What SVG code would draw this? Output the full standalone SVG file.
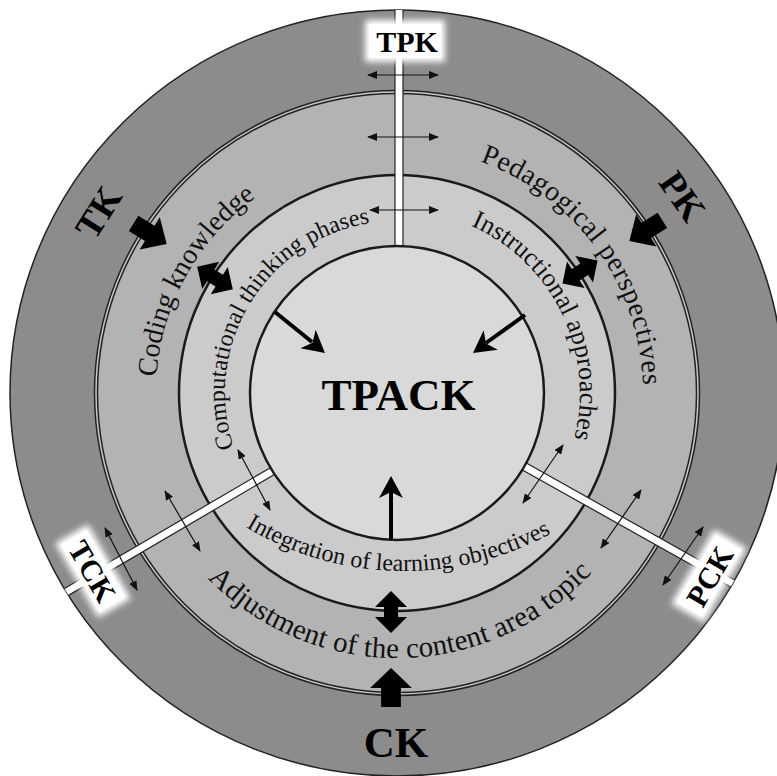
<svg xmlns="http://www.w3.org/2000/svg" width="777" height="776" viewBox="0 0 777 776">
<style>
.ln{fill:none;stroke:#1a1a1a}
.serif{font-family:"Liberation Serif","Times New Roman",serif;fill:#111}
.bold{font-family:"Liberation Serif","Times New Roman",serif;font-weight:bold;fill:#000}
.blk{fill:#000}
.thin{stroke:#111;stroke-width:1.2;fill:none;marker-start:url(#mh);marker-end:url(#mh)}
.shaft{stroke:#000;stroke-width:4;fill:none}
.edge{stroke:#222;stroke-width:1.2}
</style>
<defs>
<marker id="mh" viewBox="0 0 10 8" refX="9" refY="4" markerWidth="10" markerHeight="8" markerUnits="userSpaceOnUse" orient="auto-start-reverse"><path d="M0,0 L10,4 L0,8 Z" fill="#111"/></marker>
<path id="blockArrow" d="M0,-9 L19,-9 L19,-19 L39,0 L19,19 L19,9 L0,9 Z"/>
<path id="dblArrow" d="M-21,0 L-5,-16 L-5,-7 L5,-7 L5,-16 L21,0 L5,16 L5,7 L-5,7 L-5,16 Z"/>
<path id="head" d="M0,0 L-22,-12 L-16,0 L-22,12 Z"/>
<clipPath id="outerClip"><ellipse cx="397" cy="393" rx="387" ry="383"/></clipPath>
<filter id="glow" x="-30%" y="-30%" width="160%" height="160%"><feGaussianBlur stdDeviation="3"/></filter>
<path id="pCoding" d="M 245.3 580.3 A 241 241 0 0 1 475.5 165.1"/>
<path id="pPed" d="M 289.2 171.9 A 246 246 0 0 1 574.0 563.9"/>
<path id="pAdj" d="M 136.8 443.1 A 265 265 0 0 0 658.7 434.9"/>
<path id="pComp" d="M 283.7 522.4 A 172 172 0 0 1 459.2 232.6"/>
<path id="pInst" d="M 347.0 217.0 A 183 183 0 0 1 504.2 541.3"/>
<path id="pInt" d="M 164.8 456.4 A 307 307 0 0 0 635.0 466.2"/>
</defs>
<rect width="777" height="776" fill="#fff"/>

<g id="rings">
<ellipse cx="397" cy="393" rx="387" ry="383" fill="#8c8c8c" stroke="#222" stroke-width="1.5"/>
<circle cx="397" cy="393" r="301" fill="#b3b3b3" stroke="#222" stroke-width="4.5"/>
<circle cx="397" cy="393" r="301" fill="none" stroke="#c8c8c8" stroke-width="1.5"/>
<circle cx="397" cy="393" r="218" fill="#cbcbcb" stroke="#1a1a1a" stroke-width="2.5"/>
</g>

<g id="bands" clip-path="url(#outerClip)">
<g id="band-tpk">
<rect x="395" y="0" width="8" height="247" fill="#fff"/>
<line class="edge" x1="395" y1="0" x2="395" y2="247"/>
<line class="edge" x1="403" y1="0" x2="403" y2="247"/>
</g>
<g id="band-tck" transform="translate(397,398) rotate(149.6)">
<rect x="143" y="-4" width="260" height="8" fill="#fff"/>
<line class="edge" x1="143" y1="-4" x2="403" y2="-4"/>
<line class="edge" x1="143" y1="4" x2="403" y2="4"/>
</g>
<g id="band-pck" transform="translate(397,395) rotate(29.3)">
<rect x="144" y="-4" width="260" height="8" fill="#fff"/>
<line class="edge" x1="144" y1="-4" x2="404" y2="-4"/>
<line class="edge" x1="144" y1="4" x2="404" y2="4"/>
</g>
</g>

<g id="core">
<circle cx="397" cy="393" r="147" fill="#d9d9d9" stroke="#1a1a1a" stroke-width="2.5"/>
</g>

<g id="connectors">
<line class="thin" x1="368" y1="75" x2="438" y2="75"/>
<line class="thin" x1="368" y1="137" x2="438" y2="137"/>
<line class="thin" x1="370" y1="210" x2="438" y2="210"/>
<line class="thin" x1="238" y1="450" x2="270" y2="510"/>
<line class="thin" x1="165" y1="491" x2="200" y2="551"/>
<line class="thin" x1="105" y1="528" x2="137" y2="590"/>
<line class="thin" x1="563" y1="445" x2="523" y2="503"/>
<line class="thin" x1="641" y1="490" x2="601" y2="548"/>
<line class="thin" x1="703" y1="527" x2="663" y2="585"/>
<use href="#blockArrow" class="blk" transform="translate(133.6,223.4) rotate(32)"/>
<use href="#blockArrow" class="blk" transform="translate(662.4,220.4) rotate(148)"/>
<use href="#blockArrow" class="blk" transform="translate(391,707) rotate(-90) scale(1,1.1)"/>
<use href="#dblArrow" class="blk" transform="translate(215,278) rotate(32)"/>
<use href="#dblArrow" class="blk" transform="translate(580,272) rotate(146.5)"/>
<use href="#dblArrow" class="blk" transform="translate(391,612) rotate(90)"/>
<line class="shaft" x1="275" y1="312" x2="312" y2="342"/>
<use href="#head" class="blk" transform="translate(325,353) rotate(39.4)"/>
<line class="shaft" x1="525" y1="315" x2="486" y2="343"/>
<use href="#head" class="blk" transform="translate(473,353) rotate(143.8)"/>
<line class="shaft" x1="391" y1="540" x2="391" y2="492"/>
<use href="#head" class="blk" transform="translate(391,476) rotate(-90)"/>
</g>

<g id="ring-texts">
<text class="serif" font-size="28" text-anchor="middle"><textPath href="#pCoding" startOffset="50%">Coding knowledge</textPath></text>
<text class="serif" font-size="28" letter-spacing="0.5" text-anchor="middle"><textPath href="#pPed" startOffset="50%">Pedagogical perspectives</textPath></text>
<text class="serif" font-size="29" letter-spacing="0.2" text-anchor="middle"><textPath href="#pAdj" startOffset="50%">Adjustment of the content area topic</textPath></text>
<text class="serif" font-size="24" text-anchor="middle"><textPath href="#pComp" startOffset="50%">Computational thinking phases</textPath></text>
<text class="serif" font-size="26" letter-spacing="0.1" text-anchor="middle"><textPath href="#pInst" startOffset="50%">Instructional approaches</textPath></text>
<text class="serif" font-size="24" text-anchor="middle"><textPath href="#pInt" startOffset="50%">Integration of learning objectives</textPath></text>
</g>

<g id="node-tpack">
<text class="bold" x="398.5" y="410" font-size="45" text-anchor="middle">TPACK</text>
</g>
<g id="node-tk">
<text class="bold" font-size="37" text-anchor="middle" transform="translate(98,212) rotate(-58)" y="13">TK</text>
</g>
<g id="node-pk">
<text class="bold" font-size="37" text-anchor="middle" transform="translate(683,196) rotate(55)" y="13">PK</text>
</g>
<g id="node-ck">
<text class="bold" x="396" y="757" font-size="43" text-anchor="middle">CK</text>
</g>
<g id="node-tpk">
<rect x="365" y="20" width="80" height="42" fill="#fff" filter="url(#glow)"/>
<rect x="369" y="24" width="72" height="34" fill="#fff"/>
<text class="bold" x="407" y="52" font-size="30" text-anchor="middle">TPK</text>
</g>
<g id="node-tck" transform="translate(93,571) rotate(60)">
<rect x="-43" y="-19" width="86" height="38" fill="#fff" filter="url(#glow)"/>
<rect x="-39" y="-15" width="78" height="30" fill="#fff"/>
<text class="bold" x="0" y="11" font-size="30" text-anchor="middle">TCK</text>
</g>
<g id="node-pck" transform="translate(709,576) rotate(-60)">
<rect x="-43" y="-19" width="86" height="38" fill="#fff" filter="url(#glow)"/>
<rect x="-39" y="-15" width="78" height="30" fill="#fff"/>
<text class="bold" x="0" y="11" font-size="30" text-anchor="middle">PCK</text>
</g>
</svg>
